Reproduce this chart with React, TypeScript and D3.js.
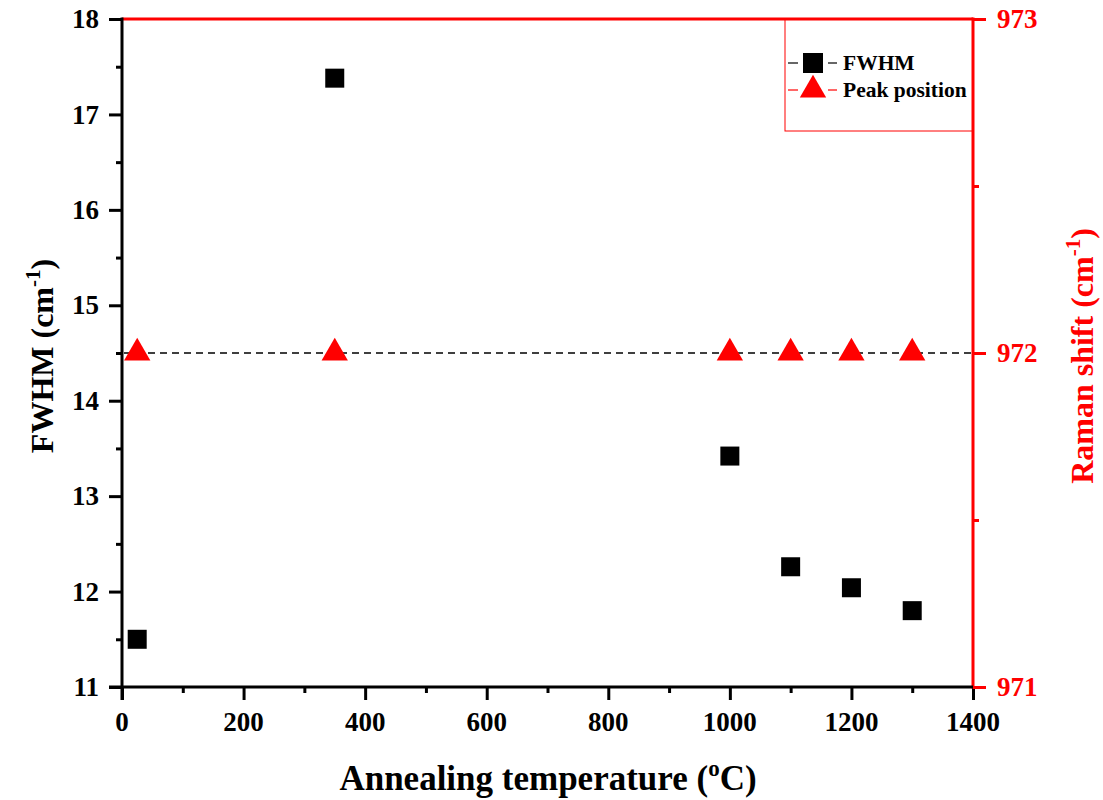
import React, { useEffect, useRef } from 'react';
import * as d3 from 'd3';

// Annealing temperature (°C)
const temps = [25, 350, 1000, 1100, 1200, 1300];
// FWHM (cm-1)
const fwhm = [11.5, 17.38, 13.42, 12.26, 12.04, 11.8];
// Raman peak position (cm-1)
const peakPos = [972, 972, 972, 972, 972, 972];

const xTicks = [0, 200, 400, 600, 800, 1000, 1200, 1400];
const yLeftTicks = [11, 12, 13, 14, 15, 16, 17, 18];
const yRightTicks = [971, 972, 973];

const RED = '#ff0000';
const FONT = '"Liberation Serif", "Times New Roman", serif';

export default function App() {
  const ref = useRef<SVGSVGElement | null>(null);

  useEffect(() => {
    const svg = d3.select(ref.current);
    svg.selectAll('*').remove();

    const left = 122, right = 973, top = 19, bottom = 687;

    const x = d3.scaleLinear().domain([0, 1400]).range([left, right]);
    const yL = d3.scaleLinear().domain([11, 18]).range([bottom, top]);
    const yR = d3.scaleLinear().domain([971, 973]).range([bottom, top]);

    svg.attr('font-family', FONT).attr('font-weight', 'bold');

    // dashed reference line through peak position
    svg.append('line')
      .attr('x1', left + 2).attr('x2', right - 2)
      .attr('y1', yR(972)).attr('y2', yR(972))
      .attr('stroke', '#000').attr('stroke-width', 1.6)
      .attr('stroke-dasharray', '7,5');

    // bottom axis
    const gx = svg.append('g').attr('transform', `translate(0,${bottom})`);
    gx.call(d3.axisBottom(x).tickValues(d3.range(0, 1401, 100)).tickSize(0).tickFormat(() => ''));
    gx.select('.domain').remove();
    gx.selectAll('.tick line')
      .attr('stroke', '#000').attr('stroke-width', 3)
      .attr('y2', (d: any) => (d % 200 === 0 ? 13 : 6));

    // left axis
    const gl = svg.append('g').attr('transform', `translate(${left},0)`);
    gl.call(d3.axisLeft(yL).tickValues(d3.range(11, 18.01, 0.5)).tickSize(0).tickFormat(() => ''));
    gl.select('.domain').remove();
    gl.selectAll('.tick line')
      .attr('stroke', '#000').attr('stroke-width', 3)
      .attr('x2', (d: any) => (d % 1 === 0 ? -13 : -6));

    // right axis
    const gr = svg.append('g').attr('transform', `translate(${right},0)`);
    gr.call(d3.axisRight(yR).tickValues(d3.range(971, 973.01, 0.5)).tickSize(0).tickFormat(() => ''));
    gr.select('.domain').remove();
    gr.selectAll('.tick line')
      .attr('stroke', RED).attr('stroke-width', 3)
      .attr('x2', (d: any) => (d % 1 === 0 ? 13 : 6));

    // tick labels, kept outside the axis groups so they use the serif font
    const labels = svg.append('g').attr('font-family', FONT).attr('font-weight', 'bold').attr('font-size', 27);
    labels.selectAll('text.xt').data(xTicks).enter().append('text')
      .attr('class', 'xt').attr('x', d => x(d)).attr('y', bottom + 44)
      .attr('text-anchor', 'middle').attr('fill', '#000').attr('font-family', FONT).text(d => d);
    labels.selectAll('text.yl').data(yLeftTicks).enter().append('text')
      .attr('class', 'yl').attr('x', left - 23).attr('y', d => yL(d)).attr('dy', '0.34em')
      .attr('text-anchor', 'end').attr('fill', '#000').attr('font-family', FONT).text(d => d);
    labels.selectAll('text.yr').data(yRightTicks).enter().append('text')
      .attr('class', 'yr').attr('x', right + 24).attr('y', d => yR(d)).attr('dy', '0.34em')
      .attr('text-anchor', 'start').attr('fill', RED).attr('font-family', FONT).text(d => d);

    // frame lines
    svg.append('line').attr('x1', left).attr('x2', right).attr('y1', top).attr('y2', top)
      .attr('stroke', RED).attr('stroke-width', 3);
    svg.append('line').attr('x1', right).attr('x2', right).attr('y1', top - 1.5).attr('y2', bottom + 1.5)
      .attr('stroke', RED).attr('stroke-width', 3);
    svg.append('line').attr('x1', left).attr('x2', left).attr('y1', top - 1.5).attr('y2', bottom + 13)
      .attr('stroke', '#000').attr('stroke-width', 3);
    svg.append('line').attr('x1', left - 13).attr('x2', right).attr('y1', bottom).attr('y2', bottom)
      .attr('stroke', '#000').attr('stroke-width', 3);

    // FWHM squares
    const sq = 19;
    svg.append('g').selectAll('rect').data(temps).enter().append('rect')
      .attr('x', d => x(d) - sq / 2).attr('y', (d, i) => yL(fwhm[i]) - sq / 2)
      .attr('width', sq).attr('height', sq).attr('fill', '#000');

    // Peak position triangles
    const tri = d3.symbol().type(d3.symbolTriangle).size(300);
    svg.append('g').selectAll('path').data(temps).enter().append('path')
      .attr('d', tri)
      .attr('transform', (d, i) => `translate(${x(d)},${yR(peakPos[i])})`)
      .attr('fill', RED);

    // legend
    const lg = svg.append('g');
    lg.append('rect').attr('x', 785).attr('y', top).attr('width', right - 785).attr('height', 112)
      .attr('fill', 'none').attr('stroke', RED).attr('stroke-width', 1);
    const rows = [
      { label: 'FWHM', color: '#000', y: 63, shape: 'sq' },
      { label: 'Peak position', color: RED, y: 90, shape: 'tri' },
    ];
    rows.forEach(r => {
      [[788, 798], [828, 837]].forEach(([a, b]) => {
        lg.append('line').attr('x1', a).attr('x2', b).attr('y1', r.y).attr('y2', r.y)
          .attr('stroke', r.color).attr('stroke-width', 1.2);
      });
      if (r.shape === 'sq') {
        lg.append('rect').attr('x', 813 - 10).attr('y', r.y - 10).attr('width', 20).attr('height', 20).attr('fill', r.color);
      } else {
        lg.append('path').attr('d', tri).attr('transform', `translate(813,${r.y})`).attr('fill', r.color);
      }
    });
    lg.append('text').attr('x', 843).attr('y', 70).attr('font-size', 21.5).attr('fill', '#000').text('FWHM');
    lg.append('text').attr('x', 843).attr('y', 97).attr('font-size', 21.5).attr('fill', '#000').text('Peak position');

    // axis titles
    const xt = svg.append('text').attr('x', 548).attr('y', 790).attr('text-anchor', 'middle')
      .attr('font-size', 35).attr('fill', '#000');
    xt.append('tspan').text('Annealing temperature (');
    xt.append('tspan').attr('font-size', 23).attr('dy', -14).text('o');
    xt.append('tspan').attr('dy', 14).text('C)');

    const yt = svg.append('text').attr('transform', `translate(53,356) rotate(-90)`)
      .attr('text-anchor', 'middle').attr('font-size', 32).attr('fill', '#000');
    yt.append('tspan').text('FWHM (cm');
    yt.append('tspan').attr('font-size', 21).attr('dy', -13).text('-1');
    yt.append('tspan').attr('dy', 13).text(')');

    const yt2 = svg.append('text').attr('transform', `translate(1093,356) rotate(-90)`)
      .attr('text-anchor', 'middle').attr('font-size', 32).attr('fill', RED);
    yt2.append('tspan').text('Raman shift (cm');
    yt2.append('tspan').attr('font-size', 21).attr('dy', -13).text('-1');
    yt2.append('tspan').attr('dy', 13).text(')');
  }, []);

  return (
    <svg
      ref={ref}
      width={1103}
      height={800}
      style={{ position: 'absolute', left: 0, top: 0, background: '#fff' }}
    />
  );
}
